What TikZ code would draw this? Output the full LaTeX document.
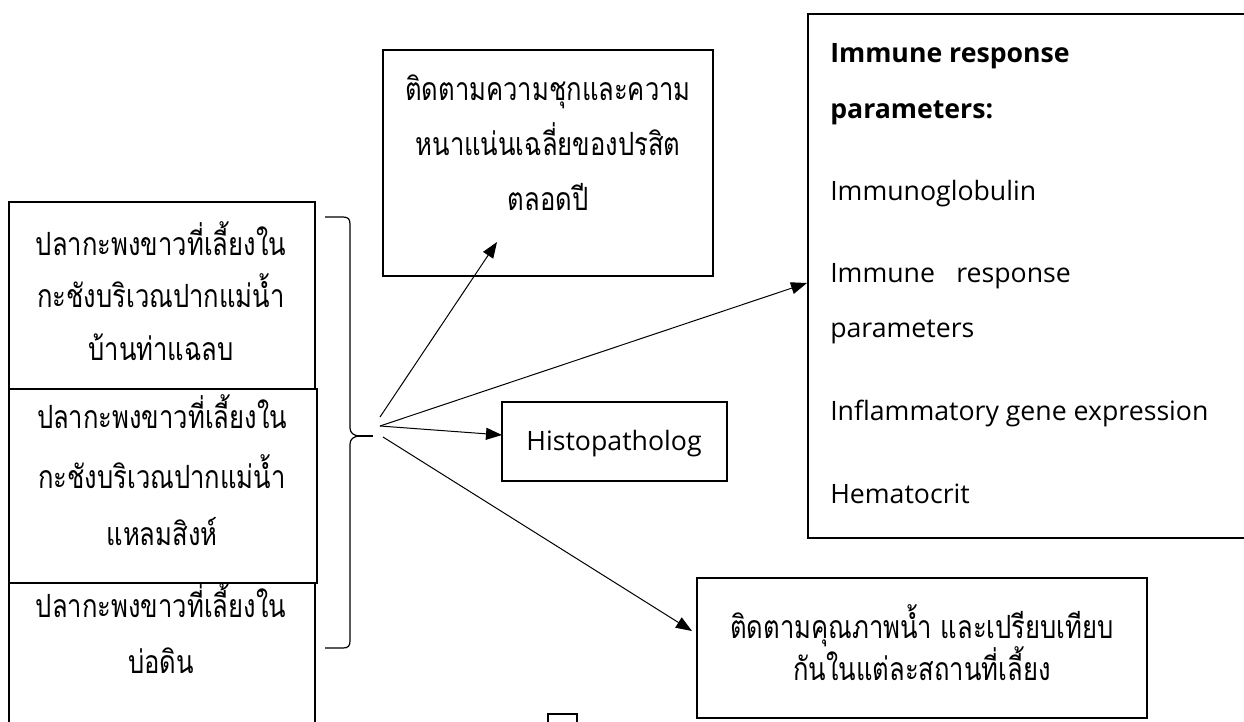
\documentclass[tikz,border=0pt]{standalone}
\usepackage{fontspec}
\setmainfont{Open Sans}
\newfontfamily\thaifont[Script=Thai,FakeStretch=0.8]{Loma}
\usetikzlibrary{arrows.meta,fit}
\begin{document}
\begin{tikzpicture}[x=0.75pt,y=-0.75pt,
  boxline/.style={draw=black, line width=1.1pt, inner sep=0pt},
  thaitxt/.style={font=\thaifont\fontsize{24pt}{28pt}\selectfont, anchor=base, inner sep=0pt},
  lattxt/.style={font=\fontsize{20pt}{24pt}\selectfont, anchor=base west, inner sep=0pt},
  latbold/.style={font=\bfseries\fontsize{20pt}{24pt}\selectfont, anchor=base west, inner sep=0pt},
  arr/.style={-{Triangle[length=12pt,width=9pt]}, line width=0.75pt},
  bracestyle/.style={line width=0.9pt}]
\useasboundingbox (0,0) rectangle (1244,721);
\clip (0,0) rectangle (1244,721);
% left boxes
\node[boxline, fit={(9,202) (315,389)}] (b1) {};
\node[boxline, fit={(9,583) (315,740)}] (b3) {};
\node[boxline, fit={(9,389) (317,583)}] (b2) {};
\node[thaitxt] (b1l1) at (161,255) {ปลากะพงขาวที่เลี้ยงใน};
\node[thaitxt] (b1l2) at (161,307) {กะชังบริเวณปากแม่น้ำ};
\node[thaitxt] (b1l3) at (161,360) {บ้านท่าแฉลบ};
\node[thaitxt] (b2l1) at (162,428) {ปลากะพงขาวที่เลี้ยงใน};
\node[thaitxt] (b2l2) at (162,488) {กะชังบริเวณปากแม่น้ำ};
\node[thaitxt] (b2l3) at (162,545) {แหลมสิงห์};
\node[thaitxt] (b3l1) at (161,617) {ปลากะพงขาวที่เลี้ยงใน};
\node[thaitxt] (b3l2) at (161,673) {บ่อดิน};
% brace
\draw[bracestyle] (325,217) -- (343,217) .. controls (348,217) and (350,219) .. (350,224)
  -- (350,428) .. controls (350,433) and (354,436) .. (360,436)
  .. controls (354,436) and (350,439) .. (350,444)
  -- (350,641) .. controls (350,646) and (348,648) .. (343,648) -- (325,648);
\draw[line width=1.4pt] (359,436) -- (373,436);
% top box
\node[boxline, fit={(383,50) (713,276)}] (top) {};
\node[thaitxt] (t1) at (548,100) {ติดตามความชุกและความ};
\node[thaitxt] (t2) at (548,155) {หนาแน่นเฉลี่ยของปรสิต};
\node[thaitxt] (t3) at (548,210) {ตลอดปี};
% histo box
\node[boxline, fit={(502,402) (727,481)}] (histo) {};
\node[font=\fontsize{20pt}{24pt}\selectfont, anchor=base, inner sep=0pt] (ht) at (614,450) {Histopatholog};
% immune box
\node[boxline, fit={(808,14) (1270,538)}] (imm) {};
\node[latbold] (i1) at (830,62) {Immune response};
\node[latbold] (i2) at (830,118) {parameters:};
\node[lattxt] (i3) at (830,200) {Immunoglobulin};
\node[lattxt] (i4) at (830,282) {Immune\hspace{16pt}response};
\node[lattxt] (i5) at (830,337) {parameters};
\node[lattxt] (i6) at (830,420) {Inflammatory gene expression};
\node[lattxt] (i7) at (830,503) {Hematocrit};
% water box
\node[boxline, fit={(697,578) (1147,718)}] (water) {};
\node[thaitxt] (w1) at (922,638) {ติดตามคุณภาพน้ำ และเปรียบเทียบ};
\node[thaitxt] (w2) at (922,680) {กันในแต่ละสถานที่เลี้ยง};
% small box at bottom
\node[boxline, fit={(548,714) (577,740)}] (small) {};
% connectors
\coordinate (s1) at (380,417);
\coordinate (s2) at (380,426);
\coordinate (s3) at (383,437);
\coordinate (eTop) at (497,242);
\coordinate (eImm) at (807,283);
\coordinate (eHis) at (502,435);
\coordinate (eWat) at (692,631);
\draw[arr] (s1) -- (eTop);
\draw[arr] (s2) -- (eImm);
\draw[arr] (s2) -- (eHis);
\draw[arr] (s3) -- (eWat);
\end{tikzpicture}
\end{document}
